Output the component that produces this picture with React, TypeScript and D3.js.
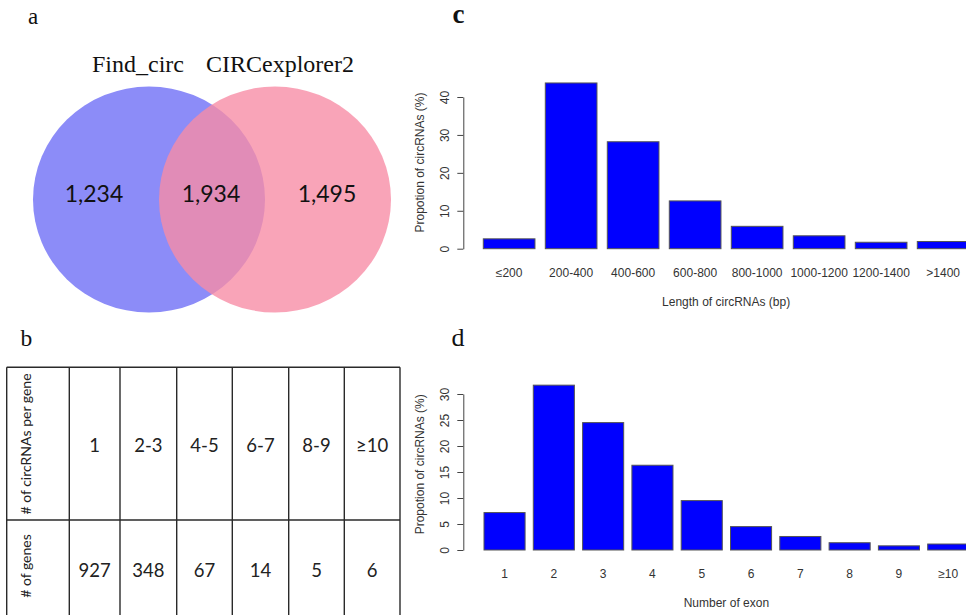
import * as d3 from "d3"
import { useEffect, useRef } from "react"

// Venn (panel a)
const vennSets = ["Find_circ", "CIRCexplorer2"]
const vennCounts = [1234, 1934, 1495] // only left, overlap, only right

// Table (panel b)
const tableRowLabels = ["# of circRNAs per gene", "# of genes"]
const circPerGene = ["1", "2-3", "4-5", "6-7", "8-9", "≥10"]
const geneCounts = [927, 348, 67, 14, 5, 6]

// Panel c
const lengthBins = ["≤200", "200-400", "400-600", "600-800", "800-1000", "1000-1200", "1200-1400", ">1400"]
const lengthPct = [2.6, 43.7, 28.2, 12.6, 5.9, 3.4, 1.7, 1.9]
const lengthTicks = [0, 10, 20, 30, 40]

// Panel d
const exonBins = ["1", "2", "3", "4", "5", "6", "7", "8", "9", "≥10"]
const exonPct = [7.2, 31.7, 24.5, 16.3, 9.5, 4.5, 2.6, 1.4, 0.8, 1.15]
const exonTicks = [0, 5, 10, 15, 20, 25, 30]

const W = 966
const H = 615
const serif = "'Liberation Serif', 'Times New Roman', serif"
const sans = "'Liberation Sans', Arial, sans-serif"
const calibri = "Lato, 'Open Sans', sans-serif"

type Sel = d3.Selection<SVGGElement, unknown, null, undefined>

function drawBars(
  g: Sel,
  cats: string[],
  values: number[],
  ticks: number[],
  opts: {
    left: number
    step: number
    y0: number
    yTop: number
    title: string
    xTitle: string
  },
) {
  const n = cats.length
  const start = opts.left - opts.step / 12
  const x = d3
    .scaleBand()
    .domain(cats)
    .range([start, start + n * opts.step])
    .paddingInner(1 / 6)
    .paddingOuter(1 / 12)

  const y = d3
    .scaleLinear()
    .domain([0, ticks[ticks.length - 1]])
    .range([opts.y0, opts.yTop])

  const axisX = 463.3
  const yAxis = d3.axisLeft(y).tickValues(ticks).tickSize(6).tickSizeOuter(0)
  const ax = g
    .append("g")
    .attr("transform", `translate(${axisX},0)`)
    .call(yAxis)
  ax.select(".domain").attr("stroke", "#444")
  ax.selectAll(".tick line").attr("stroke", "#444")
  ax.selectAll(".tick text")
    .attr("transform", "rotate(-90)")
    .attr("x", 0)
    .attr("y", -14)
    .attr("dy", 0)
    .attr("text-anchor", "middle")
    .attr("fill", "#333")
    .style("font", `12px ${sans}`)

  // bars
  g.selectAll(".bar")
    .data(values)
    .enter()
    .append("rect")
    .attr("x", (_, i) => x(cats[i])!)
    .attr("y", (d) => y(d))
    .attr("width", x.bandwidth())
    .attr("height", (d) => y(0) - y(d))
    .attr("fill", "#0000ff")
    .attr("stroke", "#555")
    .attr("stroke-width", 1)

  // category labels
  g.selectAll(".cat")
    .data(cats)
    .enter()
    .append("text")
    .attr("x", (d) => x(d)! + x.bandwidth() / 2)
    .attr("y", opts.y0 + 28)
    .attr("text-anchor", "middle")
    .attr("fill", "#333")
    .style("font", `12px ${sans}`)
    .text((d) => d)

  const midX = (x(cats[0])! + x(cats[n - 1])! + x.bandwidth()) / 2
  g.append("text")
    .attr("x", midX)
    .attr("y", opts.y0 + 57)
    .attr("text-anchor", "middle")
    .attr("fill", "#333")
    .style("font", `12px ${sans}`)
    .text(opts.xTitle)

  const maxV = d3.max(values)!
  const midY = y((maxV * 1.04) / 2)
  g.append("text")
    .attr("transform", `translate(423.5,${midY}) rotate(-90)`)
    .attr("text-anchor", "middle")
    .attr("fill", "#333")
    .style("font", `12px ${sans}`)
    .text(opts.title)
}

const App = () => {
  const svgRef = useRef<SVGSVGElement | null>(null)

  useEffect(() => {
    if (!svgRef.current) return
    const svg = d3.select(svgRef.current)
    svg.selectAll("*").remove()

    svg.append("rect").attr("width", W).attr("height", H).attr("fill", "#fff")

    // panel letters
    const letters = [
      { t: "a", x: 28, y: 24, size: 23, bold: false },
      { t: "b", x: 20.5, y: 346, size: 23.5, bold: false },
      { t: "c", x: 452.5, y: 23.3, size: 27, bold: true },
      { t: "d", x: 451.5, y: 346, size: 26, bold: false },
    ]
    svg
      .selectAll(".letter")
      .data(letters)
      .enter()
      .append("text")
      .attr("x", (d) => d.x)
      .attr("y", (d) => d.y)
      .attr("fill", "#111")
      .style("font-family", serif)
      .style("font-size", (d) => `${d.size}px`)
      .style("font-weight", (d) => (d.bold ? "bold" : "normal"))
      .text((d) => d.t)

    // ---- Venn ----
    const venn = svg.append("g")
    const cx = [149, 275]
    const cy = 199.5
    venn
      .append("ellipse")
      .attr("cx", cx[0])
      .attr("cy", cy)
      .attr("rx", 116)
      .attr("ry", 113)
      .attr("fill", "rgb(140,140,248)")
    venn
      .append("ellipse")
      .attr("cx", cx[1])
      .attr("cy", cy)
      .attr("rx", 116)
      .attr("ry", 113)
      .attr("fill", "rgb(248,139,165)")
      .attr("fill-opacity", 0.79)

    venn
      .selectAll(".setlabel")
      .data(vennSets)
      .enter()
      .append("text")
      .attr("x", (_, i) => [138, 280][i])
      .attr("y", 71.5)
      .attr("text-anchor", "middle")
      .attr("fill", "#111")
      .style("font", `24px ${serif}`)
      .text((d) => d)

    const fmt = d3.format(",")
    venn
      .selectAll(".count")
      .data(vennCounts)
      .enter()
      .append("text")
      .attr("x", (_, i) => [94, 211, 327][i])
      .attr("y", 201.5)
      .attr("text-anchor", "middle")
      .attr("fill", "#111")
      .style("font", `23px ${calibri}`)
      .text((d) => fmt(d))

    // ---- Table ----
    const tbl = svg.append("g")
    const colEdges = [6.7, 69.3, 120, 176.7, 232.3, 288.7, 344.3, 400]
    const rowEdges = [367.3, 520, 640]
    const lineColor = "#2a2a2a"
    rowEdges.slice(0, 2).forEach((ry) =>
      tbl
        .append("line")
        .attr("x1", colEdges[0])
        .attr("x2", colEdges[colEdges.length - 1])
        .attr("y1", ry)
        .attr("y2", ry)
        .attr("stroke", lineColor)
        .attr("stroke-width", 1.4),
    )
    colEdges.forEach((cxx) =>
      tbl
        .append("line")
        .attr("x1", cxx)
        .attr("x2", cxx)
        .attr("y1", rowEdges[0])
        .attr("y2", rowEdges[2])
        .attr("stroke", lineColor)
        .attr("stroke-width", 1.4),
    )
    tableRowLabels.forEach((lab, r) => {
      tbl
        .append("text")
        .attr("transform", `translate(30.5,${r === 0 ? 444 : 566}) rotate(-90)`)
        .attr("text-anchor", "middle")
        .attr("fill", "#222")
        .style("font", `14px ${calibri}`)
        .text(lab)
    })
    const rows = [circPerGene, geneCounts.map(String)]
    rows.forEach((vals, r) => {
      tbl
        .selectAll(`.cell${r}`)
        .data(vals)
        .enter()
        .append("text")
        .attr("x", (_, i) => (colEdges[i + 1] + colEdges[i + 2]) / 2)
        .attr("y", r === 0 ? 451.7 : 576.5)
        .attr("text-anchor", "middle")
        .attr("fill", "#222")
        .style("font", `18.5px ${calibri}`)
        .text((d) => d)
    })

    // ---- Panel c ----
    drawBars(svg.append("g"), lengthBins, lengthPct, lengthTicks, {
      left: 483.3,
      step: 62,
      y0: 248.7,
      yTop: 97,
      title: "Propotion of circRNAs (%)",
      xTitle: "Length of circRNAs (bp)",
    })

    // ---- Panel d ----
    drawBars(svg.append("g"), exonBins, exonPct, exonTicks, {
      left: 484,
      step: 49.3,
      y0: 550,
      yTop: 394,
      title: "Propotion of circRNAs (%)",
      xTitle: "Number of exon",
    })
  }, [])

  return (
    <svg
      ref={svgRef}
      width={W}
      height={H}
      style={{ position: "absolute", left: 0, top: 0, display: "block", overflow: "hidden" }}
    />
  )
}

export default App
